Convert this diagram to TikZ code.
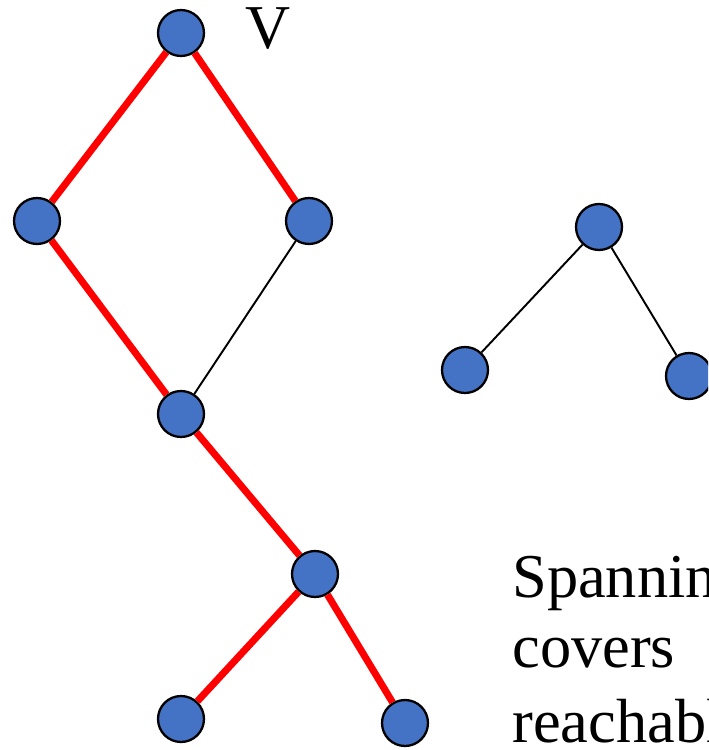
\documentclass[tikz,border=0pt]{standalone}
\usepackage{fontspec}
\setmainfont{Liberation Serif}
\definecolor{nodeblue}{HTML}{4472C4}
\begin{document}
\begin{tikzpicture}[x=0.02cm,y=-0.02cm,
		vertex/.style={circle,draw=black,line width=1.3pt,fill=nodeblue,minimum size=0.92cm,inner sep=0pt},
		treeedge/.style={red,line width=4pt},
		plainedge/.style={black,line width=1.1pt},
		label/.style={font=\fontsize{35.5}{42}\selectfont,inner sep=0pt}]
		\useasboundingbox (0,0) rectangle (708,750);
		\clip (0,0) rectangle (708,750);
		% graph on the left
		\node[vertex] (V) at (181,33) {};
		\node[vertex] (L) at (37,221) {};
		\node[vertex] (R) at (309,221) {};
		\node[vertex] (M) at (181,414) {};
		\node[vertex] (N) at (315,574) {};
		\node[vertex] (B1) at (181,719) {};
		\node[vertex] (B2) at (405,723) {};
		% second component
		\node[vertex] (T) at (599,227) {};
		\node[vertex] (T1) at (465,370) {};
		\node[vertex] (T2) at (689,376) {};
		\draw[treeedge] (V) -- (L);
		\draw[treeedge] (V) -- (R);
		\draw[treeedge] (L) -- (M);
		\draw[plainedge] (R) -- (M);
		\draw[treeedge] (M) -- (N);
		\draw[treeedge] (N) -- (B1);
		\draw[treeedge] (N) -- (B2);
		\draw[plainedge] (T) -- (T1);
		\draw[plainedge] (T) -- (T2);
		\node[label] (vname) at (268,29) {V};
		\node[label,anchor=base west] (line1) at (512,597) {Spanning};
		\node[label,anchor=base west] (line2) at (512,667) {covers};
		\node[label,anchor=base west] (line3) at (512,742) {reachable};
	\end{tikzpicture}
\end{document}
